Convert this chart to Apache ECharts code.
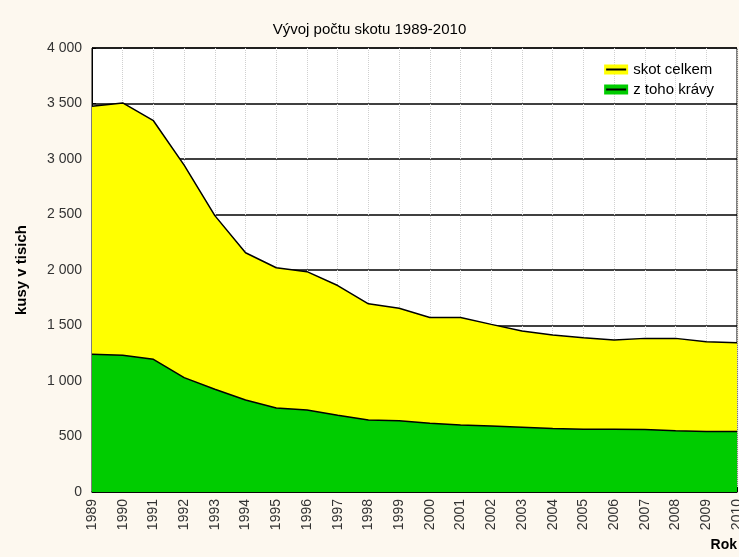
<!DOCTYPE html>
<html>
<head>
    <meta charset="utf-8">
    <script src="https://cdn.jsdelivr.net/npm/echarts@6/dist/echarts.min.js"></script>
    <style>
        body { margin: 0; background: #FDF8EF; }
    </style>
</head>
<body>
    <div id="main" style="width: 739px;height:557px;"></div>
    <script type="text/javascript">
        var myChart = echarts.init(document.getElementById('main'));

        // data (kusy v tisicich)
        var titleText = 'Vývoj počtu skotu 1989-2010';
        var years = ['1989', '1990', '1991', '1992', '1993', '1994', '1995', '1996', '1997', '1998', '1999',
                     '2000', '2001', '2002', '2003', '2004', '2005', '2006', '2007', '2008', '2009', '2010'];
        var skotCelkem = [3475, 3505, 3345, 2945, 2490, 2155, 2020, 1985, 1860, 1695, 1655,
                          1572, 1572, 1510, 1450, 1414, 1390, 1369, 1384, 1384, 1354, 1345];
        var kravy = [1240, 1231, 1195, 1030, 925, 829, 757, 739, 691, 649, 642,
                     619, 604, 595, 583, 571, 565, 565, 562, 552, 544, 544];
        var seriesNames = ['skot celkem', 'z toho krávy'];

        var font = 'Liberation Sans, Arial, sans-serif';

        function fmt(v) {
            return String(v).replace(/\B(?=(\d{3})+(?!\d))/g, ' ');
        }

        var option = {
            backgroundColor: '#FDF8EF',
            animation: false,
            title: [
                {
                    text: titleText,
                    left: 'center',
                    top: 17,
                    textStyle: { fontSize: 15, fontWeight: 'normal', color: '#000', fontFamily: font }
                },
                {
                    text: 'Rok',
                    right: 2,
                    top: 538,
                    padding: 0,
                    textStyle: { fontSize: 14, fontWeight: 'bold', color: '#000', fontFamily: font }
                }
            ],
            legend: [
                {
                    data: seriesNames,
                    orient: 'vertical',
                    right: 20,
                    top: 57,
                    icon: 'rect',
                    itemWidth: 24,
                    itemHeight: 10,
                    itemGap: 5,
                    itemStyle: { borderWidth: 0 },
                    textStyle: { fontSize: 15, color: '#000', fontFamily: font }
                },
                {
                    data: seriesNames,
                    orient: 'vertical',
                    right: 20,
                    top: 57,
                    icon: 'path://M0,0H10V1H0Z',
                    itemWidth: 24,
                    itemHeight: 2,
                    itemGap: 5,
                    selectedMode: false,
                    itemStyle: { color: '#000', borderWidth: 0 },
                    textStyle: { fontSize: 15, color: 'rgba(0,0,0,0)', fontFamily: font }
                }
            ],
            grid: {
                left: 92,
                right: 2,
                top: 48,
                bottom: 65,
                outerBoundsMode: 'none',
                containLabel: false,
                show: true,
                backgroundColor: '#fff',
                borderColor: '#000',
                borderWidth: 1
            },
            xAxis: {
                type: 'category',
                data: years,
                boundaryGap: false,
                axisLine: { lineStyle: { color: '#000', width: 1.5 } },
                axisTick: { inside: true, length: 5, lineStyle: { color: '#000' } },
                axisLabel: { rotate: 90, fontSize: 14, color: '#333', fontFamily: font, margin: 7, interval: 0 },
                splitLine: { show: true, lineStyle: { color: '#d0d0d0', type: 'dotted', width: 1 } }
            },
            yAxis: {
                type: 'value',
                min: 0,
                max: 4000,
                interval: 500,
                name: 'kusy v tisich',
                nameLocation: 'middle',
                nameGap: 63,
                nameTextStyle: { fontSize: 15, fontWeight: 'bold', color: '#000', fontFamily: font },
                axisLine: { show: true, lineStyle: { color: '#000' } },
                axisTick: { show: true, inside: true, length: 4, lineStyle: { color: '#000' } },
                axisLabel: { fontSize: 14, color: '#333', fontFamily: font, margin: 10, formatter: fmt },
                splitLine: { show: true, lineStyle: { color: '#000', width: 1.5 } }
            },
            series: [
                {
                    name: seriesNames[0],
                    type: 'line',
                    data: skotCelkem,
                    symbol: 'none',
                    itemStyle: { color: '#FFFF00' },
                    lineStyle: { color: '#000', width: 1.5 },
                    areaStyle: { color: '#FFFF00', opacity: 1 }
                },
                {
                    name: seriesNames[1],
                    type: 'line',
                    data: kravy,
                    symbol: 'none',
                    itemStyle: { color: '#00CC00' },
                    lineStyle: { color: '#000', width: 1.5 },
                    areaStyle: { color: '#00CC00', opacity: 1 }
                }
            ]
        };

        myChart.setOption(option);
    </script>
</body>
</html>
